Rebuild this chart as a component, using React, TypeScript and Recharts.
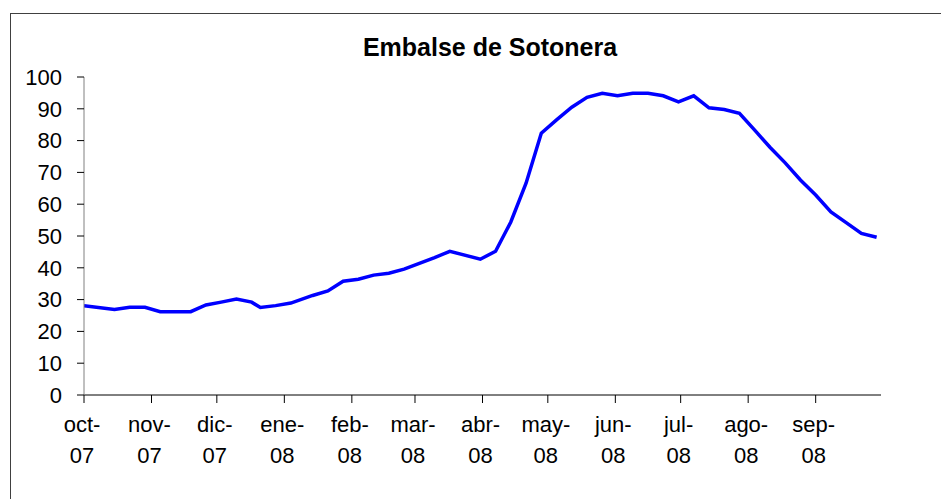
import { LineChart, Line, XAxis, YAxis } from "recharts";

// weekly reservoir level readings (hm3 / % of capacity)
const readingDates = [
  "2007-10-01", "2007-10-15", "2007-10-22", "2007-10-29", "2007-11-05", "2007-11-19",
  "2007-11-26", "2007-12-03", "2007-12-10", "2007-12-17", "2007-12-21", "2007-12-28",
  "2008-01-04", "2008-01-14", "2008-01-21", "2008-01-28", "2008-02-04", "2008-02-11",
  "2008-02-18", "2008-02-25", "2008-03-03", "2008-03-10", "2008-03-17", "2008-03-31",
  "2008-04-07", "2008-04-14", "2008-04-21", "2008-04-28", "2008-05-05", "2008-05-12",
  "2008-05-19", "2008-05-26", "2008-06-02", "2008-06-09", "2008-06-16", "2008-06-23",
  "2008-06-30", "2008-07-07", "2008-07-14", "2008-07-21", "2008-07-28", "2008-08-04",
  "2008-08-11", "2008-08-18", "2008-08-25", "2008-09-01", "2008-09-08", "2008-09-15",
  "2008-09-22", "2008-09-29",
];

const levels = [
  28.1, 26.9, 27.6, 27.6, 26.2, 26.2,
  28.3, 29.2, 30.2, 29.2, 27.5, 28.1,
  28.9, 31.3, 32.7, 35.8, 36.4, 37.7,
  38.3, 39.6, 41.4, 43.2, 45.2, 42.7,
  45.2, 54.4, 66.6, 82.3, 86.5, 90.5,
  93.6, 94.9, 94.1, 94.9, 94.9, 94.1,
  92.2, 94.1, 90.3, 89.8, 88.6, 83.3,
  77.9, 73.0, 67.6, 62.9, 57.6, 54.2,
  50.8, 49.6,
];

const monthStarts = [
  "2007-10-01", "2007-11-01", "2007-12-01", "2008-01-01", "2008-02-01", "2008-03-01",
  "2008-04-01", "2008-05-01", "2008-06-01", "2008-07-01", "2008-08-01", "2008-09-01",
];
const monthLabels = [
  "oct-07", "nov-07", "dic-07", "ene-08", "feb-08", "mar-08",
  "abr-08", "may-08", "jun-08", "jul-08", "ago-08", "sep-08",
];
const yTicks = [0, 10, 20, 30, 40, 50, 60, 70, 80, 90, 100];

const START = Date.UTC(2007, 9, 1);
const dayOf = (s: string) => {
  const [y, m, d] = s.split("-").map(Number);
  return Math.round((Date.UTC(y, m - 1, d) - START) / 86400000);
};

const data = readingDates.map((d, i) => ({ day: dayOf(d), level: levels[i] }));
const monthTicks = monthStarts.map(dayOf);

const FONT = "'Liberation Sans', Arial, sans-serif";

const MonthTick = ({ x, y, payload }: any) => {
  const idx = monthTicks.indexOf(payload.value);
  const [mon, yr] = (monthLabels[idx] || "").split("-");
  return (
    <text x={x - 2} y={y} textAnchor="middle" fontSize={22} fontFamily={FONT} fill="#000">
      <tspan x={x - 2} dy={29}>{mon}-</tspan>
      <tspan x={x - 2} dy={31}>{yr}</tspan>
    </text>
  );
};

export default function App() {
  return (
    <div style={{ position: "fixed", left: 0, top: 0, width: 941, height: 499, overflow: "hidden", background: "#fff" }}>
      <div
        style={{
          position: "absolute",
          left: 10,
          top: 13,
          width: 1000,
          height: 560,
          border: "1px solid #404040",
        }}
      >
        <LineChart width={940} height={520} data={data} margin={{ top: 63, right: 70, left: 0, bottom: 59 }}>
          <XAxis
            dataKey="day"
            type="number"
            domain={[0, 366]}
            allowDataOverflow
            ticks={monthTicks}
            interval={0}
            tickSize={8}
            tickMargin={0}
            height={80}
            axisLine={{ stroke: "#000", strokeWidth: 1 }}
            tickLine={{ stroke: "#000" }}
            tick={<MonthTick />}
          />
          <YAxis
            type="number"
            domain={[0, 100]}
            ticks={yTicks}
            interval={0}
            width={73}
            tickSize={7}
            tickMargin={15}
            axisLine={{ stroke: "#808080" }}
            tickLine={{ stroke: "#000" }}
            tick={{ fontSize: 22, fontFamily: FONT, fill: "#000" }}
          />
          <Line
            type="linear"
            dataKey="level"
            stroke="#0000FF"
            strokeWidth={3.5}
            dot={false}
            isAnimationActive={false}
          />
        </LineChart>
      </div>
      <div
        style={{
          position: "absolute",
          left: 290,
          top: 35,
          width: 400,
          textAlign: "center",
          fontFamily: FONT,
          fontWeight: "bold",
          fontSize: 25,
          lineHeight: "25px",
          color: "#000",
        }}
      >
        Embalse de Sotonera
      </div>
    </div>
  );
}
